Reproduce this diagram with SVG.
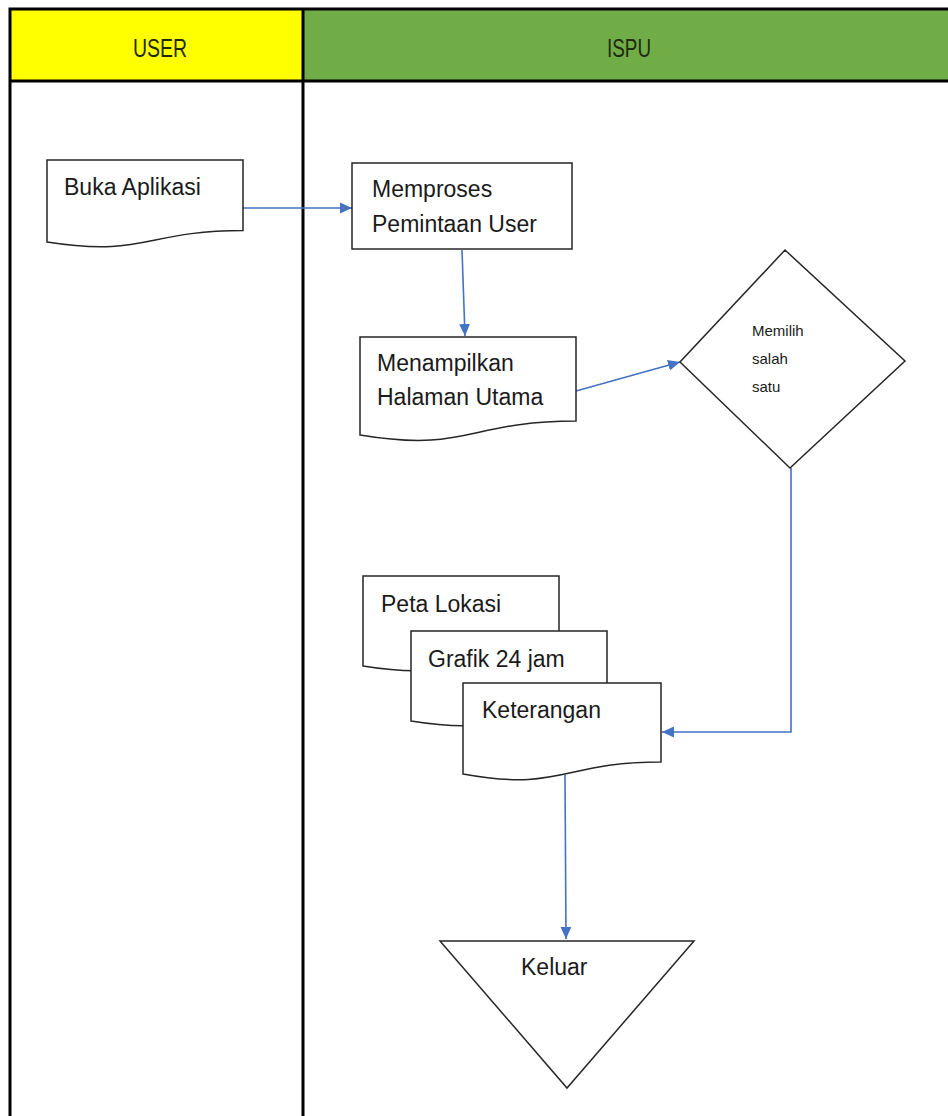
<svg xmlns="http://www.w3.org/2000/svg" width="948" height="1116" viewBox="0 0 948 1116">
<style>
.lane{stroke:#000;stroke-width:3;fill:none}
.shape{fill:#fff;stroke:#262626;stroke-width:1.5}
.t{font-family:"Liberation Sans",Arial,sans-serif;font-size:23px;fill:#1a1a1a}
.ts{font-family:"Liberation Sans",Arial,sans-serif;font-size:15px;fill:#1a1a1a}
.h{font-family:"Liberation Sans",Arial,sans-serif;font-size:25px;fill:#1f2a10}
.c{stroke:#4472C4;stroke-width:1.6;fill:none}
</style>
<defs>
<marker id="a" viewBox="0 0 10 10" refX="10" refY="5" markerWidth="12" markerHeight="12" markerUnits="userSpaceOnUse" orient="auto">
<path d="M0,0.5 L10,5 L0,9.5 Z" fill="#4472C4"/>
</marker>
</defs>
<rect x="0" y="0" width="948" height="1116" fill="#fff"/>
<g id="lanes">
<rect x="10" y="9" width="293" height="72" fill="#FFFF00"/>
<rect x="303" y="9" width="645" height="72" fill="#70AD47"/>
<path class="lane" d="M10,1116 V9 H948 M10,81 H948 M303,9 V1116"/>
<text class="h" x="160" y="57" text-anchor="middle" textLength="54" lengthAdjust="spacingAndGlyphs">USER</text>
<text class="h" x="629" y="57" text-anchor="middle" textLength="44" lengthAdjust="spacingAndGlyphs">ISPU</text>
</g>
<g id="connectors">
<path class="c" d="M243,208 H352" marker-end="url(#a)"/>
<path class="c" d="M462,250 L465,336" marker-end="url(#a)"/>
<path class="c" d="M576,391 L680,362" marker-end="url(#a)"/>
<path class="c" d="M791,468 V732 H662" marker-end="url(#a)"/>
<path class="c" d="M565,775 L566,939" marker-end="url(#a)"/>
</g>
<g id="buka">
<path class="shape" d="M47,160 H243 V230.6 C145,230.6 145,257.4 47,242 Z"/>
<text class="t" x="64" y="195">Buka Aplikasi</text>
</g>
<g id="memproses">
<rect class="shape" x="352" y="163" width="220" height="86"/>
<text class="t" x="372" y="197">Memproses</text>
<text class="t" x="372" y="232">Pemintaan User</text>
</g>
<g id="menampilkan">
<path class="shape" d="M360,337 H576 V421 C468,421 468,453 360,435 Z"/>
<text class="t" x="377" y="371">Menampilkan</text>
<text class="t" x="377" y="405">Halaman Utama</text>
</g>
<g id="memilih">
<path class="shape" d="M785,250 L905,361 L790,468 L680,362 Z"/>
<text class="ts" x="752" y="336">Memilih</text>
<text class="ts" x="752" y="364">salah</text>
<text class="ts" x="752" y="392">satu</text>
</g>
<g id="peta">
<path class="shape" d="M363,576 H559 V653 C461,653 461,682 363,666 Z"/>
<text class="t" x="381" y="612">Peta Lokasi</text>
</g>
<g id="grafik">
<path class="shape" d="M411,631 H607 V708 C509,708 509,737 411,721 Z"/>
<text class="t" x="428" y="667">Grafik 24 jam</text>
</g>
<g id="keterangan">
<path class="shape" d="M463,683 H661 V762 C562,762 562,792 463,774 Z"/>
<text class="t" x="482" y="718">Keterangan</text>
</g>
<g id="keluar">
<path class="shape" d="M440,941 H694 L567,1088 Z"/>
<text class="t" x="521" y="975">Keluar</text>
</g>
</svg>
